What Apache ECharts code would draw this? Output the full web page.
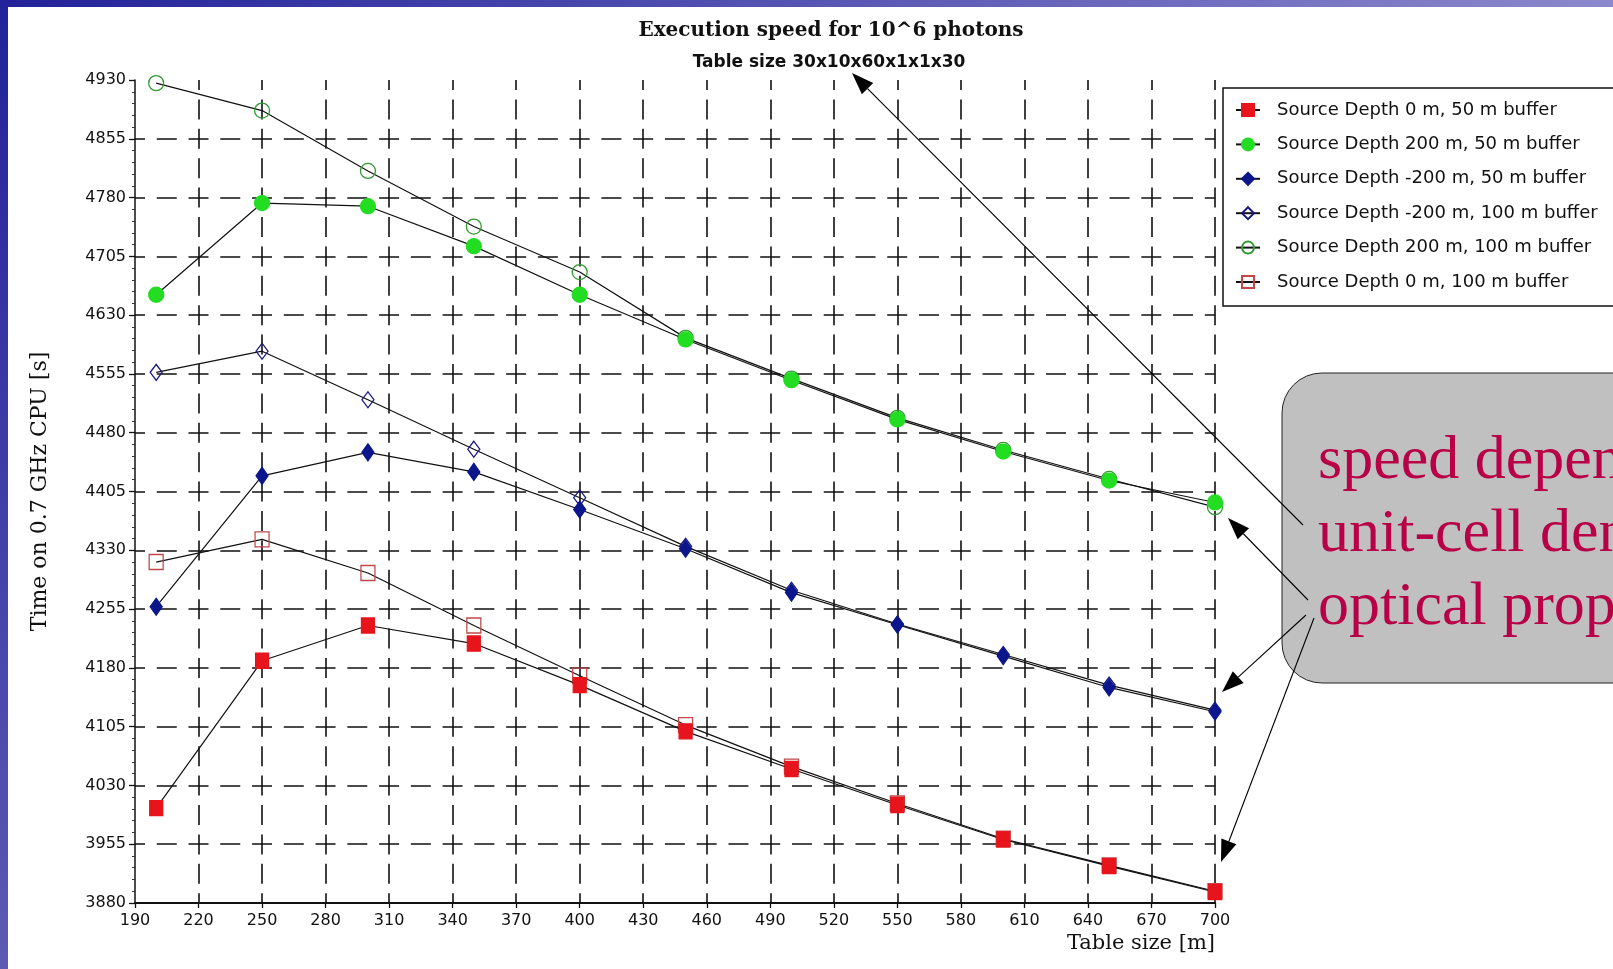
<!DOCTYPE html>
<html><head><meta charset="utf-8">
<script src="https://cdn.jsdelivr.net/npm/echarts@6/dist/echarts.min.js"></script>
<style>html,body{margin:0;padding:0;background:#fff}#c{width:1613px;height:969px}</style>
</head><body><div id="c"></div><script>
// ---- data ----
const tableSizes = [200, 250, 300, 350, 400, 450, 500, 550, 600, 650, 700];
const depth0_buf50    = [4001, 4189, 4234, 4211, 4158, 4099, 4051, 4005, 3961, 3927, 3894];
const depth200_buf50  = [4656, 4773, 4769, 4718, 4656, 4599, 4547, 4497, 4456, 4419, 4391];
const depthM200_buf50 = [4258, 4425, 4455, 4430, 4382, 4332, 4276, 4235, 4195, 4155, 4124];
const depthM200_buf100= [4557, 4584, 4522, 4459, 4397, 4335, 4279, 4236, 4197, 4158, 4126];
const depth200_buf100 = [4926, 4891, 4814, 4743, 4685, 4601, 4549, 4499, 4458, 4421, 4385];
const depth0_buf100   = [4315, 4344, 4301, 4234, 4170, 4107, 4054, 4007, 3962, 3928, 3895];
const seriesNames = [
  'Source Depth 0 m, 50 m buffer',
  'Source Depth 200 m, 50 m buffer',
  'Source Depth -200 m, 50 m buffer',
  'Source Depth -200 m, 100 m buffer',
  'Source Depth 200 m, 100 m buffer',
  'Source Depth 0 m, 100 m buffer'
];
const xTickRange = [190, 700, 30];   // min, max, step
const yTickRange = [3880, 4930, 75];
const titleText = 'Execution speed for 10^6 photons';
const subTitleText = 'Table size 30x10x60x1x1x30';
const calloutLines = ['speed depends on', 'unit-cell density of', 'optical properties'];

// ---- chart ----
const chart = echarts.init(document.getElementById('c'), null, {renderer: 'canvas'});
const pairs = arr => tableSizes.map((x, i) => [x, arr[i]]);

function mk(name, data, symbol, size, fill, border, z) {
  return {
    name, type: 'line', data: pairs(data), symbol, symbolSize: size, z,
    lineStyle: {color: '#111', width: 1.2},
    itemStyle: {color: fill, borderColor: border, borderWidth: 1.3},
    emphasis: {disabled: true}, animation: false
  };
}

function arrow(x1, y1, x2, y2) {
  const dx = x2 - x1, dy = y2 - y1, L = Math.hypot(dx, dy);
  const ux = dx / L, uy = dy / L, hl = 22, hw = 8;
  const bx = x2 - ux * hl, by = y2 - uy * hl;
  return [
    {type: 'line', shape: {x1, y1, x2: bx, y2: by}, style: {stroke: '#000', lineWidth: 1.1}, z: 100},
    {type: 'polygon', shape: {points: [[x2, y2], [bx - uy * hw, by + ux * hw], [bx + uy * hw, by - ux * hw]]},
     style: {fill: '#000'}, z: 100}
  ];
}

const sans = '"DejaVu Sans", Arial, sans-serif';
const serif = '"DejaVu Serif", "Liberation Serif", serif';
const times = '"Liberation Serif", "Times New Roman", serif';

const option = {
  backgroundColor: '#fff',
  animation: false,
  title: [
    {text: titleText, left: 826, top: 16, textAlign: 'center',
     textStyle: {fontFamily: serif, fontWeight: 'bold', fontSize: 20, color: '#111'}},
    {text: subTitleText, left: 824, top: 49, textAlign: 'center',
     textStyle: {fontFamily: sans, fontWeight: 'bold', fontSize: 17, color: '#111'}}
  ],
  grid: {left: 135, right: 398, top: 80, bottom: 66, containLabel: false},
  legend: {
    orient: 'vertical', left: 1223, top: 88,
    data: seriesNames,
    padding: [13, 90, 15, 12], itemGap: 16.4, itemWidth: 24, itemHeight: 15,
    borderColor: '#111', borderWidth: 1.5, backgroundColor: '#fff',
    textStyle: {fontFamily: sans, fontSize: 18, color: '#111', padding: [0, 0, 0, 12]},
    selectedMode: false
  },
  xAxis: {
    type: 'value', min: xTickRange[0], max: xTickRange[1], interval: xTickRange[2],
    name: 'Table size [m]', nameLocation: 'end', nameGap: 0,
    nameTextStyle: {fontFamily: serif, fontSize: 21, color: '#111', align: 'right', verticalAlign: 'top', padding: [30, 0, 0, 0]},
    axisLine: {lineStyle: {color: '#111', width: 2}},
    axisTick: {show: true, inside: false, length: 5, lineStyle: {color: '#111', width: 1.3}},
    axisLabel: {fontFamily: sans, fontSize: 16, color: '#111', margin: 10, formatter: v => String(v)},
    splitLine: {show: true, showMinLine: false, showMaxLine: true,
      lineStyle: {color: '#111', width: 1.6, type: [20, 9.4], dashOffset: 10}}
  },
  yAxis: {
    type: 'value', min: yTickRange[0], max: yTickRange[1], interval: yTickRange[2],
    name: 'Time on 0.7 GHz CPU [s]', nameLocation: 'middle', nameGap: 84, nameRotate: 90,
    nameTextStyle: {fontFamily: serif, fontSize: 22, color: '#111'},
    axisLine: {show: true, lineStyle: {color: '#111', width: 1.5}},
    axisTick: {show: true, inside: false, length: 6, lineStyle: {color: '#111', width: 1.3}},
    minorTick: {show: true, splitNumber: 5, length: 3, lineStyle: {color: '#333', width: 1}},
    axisLabel: {fontFamily: sans, fontSize: 16, color: '#111', margin: 9, formatter: v => String(v)},
    splitLine: {show: true, showMinLine: false, showMaxLine: false,
      lineStyle: {color: '#111', width: 1.6, type: [20, 11.76], dashOffset: 10}}
  },
  series: [
    mk(seriesNames[0], depth0_buf50, 'rect', [13, 15], '#e8141c', '#e8141c', 6),
    mk(seriesNames[1], depth200_buf50, 'circle', 15, '#22dd22', '#22dd22', 6),
    mk(seriesNames[2], depthM200_buf50, 'diamond', [12, 17], '#0b168c', '#0b168c', 6),
    mk(seriesNames[3], depthM200_buf100, 'diamond', [12, 16], 'rgba(255,255,255,0)', '#1a1a80', 5),
    mk(seriesNames[4], depth200_buf100, 'circle', 15, 'rgba(255,255,255,0)', '#2f9a2f', 5),
    mk(seriesNames[5], depth0_buf100, 'rect', [14, 15], 'rgba(255,255,255,0)', '#c04848', 5)
  ],
  graphic: [
    // slide background bands
    {type: 'rect', shape: {x: 0, y: 0, width: 1613, height: 7}, z: 200,
     style: {fill: new echarts.graphic.LinearGradient(0, 0, 1, 0, [{offset: 0, color: '#22229a'}, {offset: 1, color: '#8c88cc'}])}},
    {type: 'rect', shape: {x: 0, y: 0, width: 8, height: 969}, z: 200,
     style: {fill: new echarts.graphic.LinearGradient(0, 0, 0, 1, [{offset: 0, color: '#22229a'}, {offset: 1, color: '#5c5ab4'}])}},
    // callout
    {type: 'rect', shape: {x: 1282, y: 373, width: 420, height: 310, r: 40}, z: 90,
     style: {fill: '#c0c0c0', stroke: '#222', lineWidth: 1}},
    ...calloutLines.map((t, i) => ({
      type: 'text', x: 1318, y: 431 + i * 73, z: 95,
      style: {text: t, font: '62px ' + times, fill: '#b80046'}
    })),
    ...arrow(1303, 525, 852, 73),
    ...arrow(1308, 600, 1228, 518),
    ...arrow(1306, 615, 1222, 692),
    ...arrow(1314, 618, 1221, 862)
  ]
};
chart.setOption(option);
</script></body></html>
